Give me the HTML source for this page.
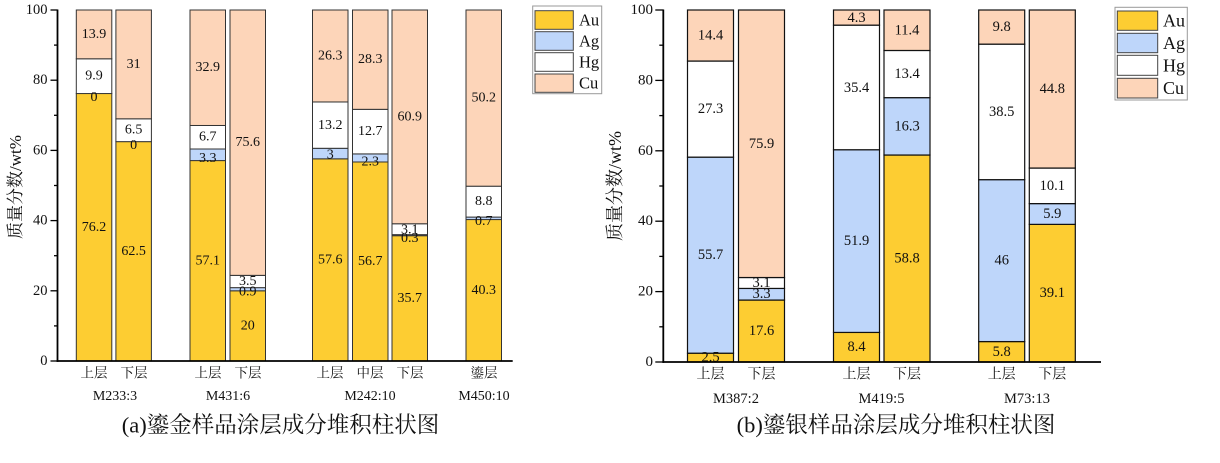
<!DOCTYPE html>
<html><head><meta charset="utf-8">
<style>
html,body{margin:0;padding:0;background:#fff;}
svg{display:block;}
text{font-family:"Liberation Serif","Noto Serif CJK SC",serif;fill:#111;}
.cj{font-family:"Liberation Serif","Noto Serif CJK SC",serif;}
</style></head>
<body>
<svg width="1220" height="463" viewBox="0 0 1220 463" xmlns="http://www.w3.org/2000/svg">
<rect width="1220" height="463" fill="#fff"/>

<!-- ================= LEFT CHART ================= -->
<g stroke="#333" stroke-width="1">
<!-- B1 -->
<rect x="76.3" y="93.54" width="35.5" height="267.46" fill="#FDCD32"/>
<rect x="76.3" y="58.79" width="35.5" height="34.75" fill="#FFFFFF"/>
<rect x="76.3" y="10" width="35.5" height="48.79" fill="#FDD5B9"/>
<!-- B2 -->
<rect x="115.9" y="141.63" width="35.5" height="219.37" fill="#FDCD32"/>
<rect x="115.9" y="118.81" width="35.5" height="22.82" fill="#FFFFFF"/>
<rect x="115.9" y="10" width="35.5" height="108.81" fill="#FDD5B9"/>
<!-- B3 -->
<rect x="190" y="160.58" width="35.5" height="200.42" fill="#FDCD32"/>
<rect x="190" y="149.0" width="35.5" height="11.58" fill="#BED6FA"/>
<rect x="190" y="125.48" width="35.5" height="23.52" fill="#FFFFFF"/>
<rect x="190" y="10" width="35.5" height="115.48" fill="#FDD5B9"/>
<!-- B4 -->
<rect x="230" y="290.8" width="35.5" height="70.2" fill="#FDCD32"/>
<rect x="230" y="287.64" width="35.5" height="3.16" fill="#BED6FA"/>
<rect x="230" y="275.36" width="35.5" height="12.28" fill="#FFFFFF"/>
<rect x="230" y="10" width="35.5" height="265.36" fill="#FDD5B9"/>
<!-- B5 -->
<rect x="312.5" y="158.82" width="35.5" height="202.18" fill="#FDCD32"/>
<rect x="312.5" y="148.29" width="35.5" height="10.53" fill="#BED6FA"/>
<rect x="312.5" y="101.96" width="35.5" height="46.33" fill="#FFFFFF"/>
<rect x="312.5" y="10" width="35.5" height="91.96" fill="#FDD5B9"/>
<!-- B6 -->
<rect x="352.5" y="161.98" width="35.5" height="199.02" fill="#FDCD32"/>
<rect x="352.5" y="153.91" width="35.5" height="8.07" fill="#BED6FA"/>
<rect x="352.5" y="109.33" width="35.5" height="44.58" fill="#FFFFFF"/>
<rect x="352.5" y="10" width="35.5" height="99.33" fill="#FDD5B9"/>
<!-- B7 -->
<rect x="392" y="235.69" width="35.5" height="125.31" fill="#FDCD32"/>
<rect x="392" y="234.64" width="35.5" height="1.05" fill="#BED6FA"/>
<rect x="392" y="223.76" width="35.5" height="10.88" fill="#FFFFFF"/>
<rect x="392" y="10" width="35.5" height="213.76" fill="#FDD5B9"/>
<!-- B8 -->
<rect x="466" y="219.55" width="35.5" height="141.45" fill="#FDCD32"/>
<rect x="466" y="217.09" width="35.5" height="2.46" fill="#BED6FA"/>
<rect x="466" y="186.2" width="35.5" height="30.89" fill="#FFFFFF"/>
<rect x="466" y="10" width="35.5" height="176.2" fill="#FDD5B9"/>
</g>

<!-- left bar labels -->
<g font-size="14" text-anchor="middle" dominant-baseline="central">
<text x="94" y="227.3">76.2</text><text x="94" y="97.5">0</text><text x="94" y="76.2">9.9</text><text x="94" y="34.4">13.9</text>
<text x="133.6" y="251.3">62.5</text><text x="133.6" y="145.6">0</text><text x="133.6" y="130.2">6.5</text><text x="133.6" y="64.4">31</text>
<text x="207.7" y="260.8">57.1</text><text x="207.7" y="158.3">3.3</text><text x="207.7" y="137.2">6.7</text><text x="207.7" y="67.7">32.9</text>
<text x="247.7" y="325.9">20</text><text x="247.7" y="292.2">0.9</text><text x="247.7" y="281.5">3.5</text><text x="247.7" y="142.7">75.6</text>
<text x="330.2" y="259.9">57.6</text><text x="330.2" y="155.1">3</text><text x="330.2" y="125.6">13.2</text><text x="330.2" y="56">26.3</text>
<text x="370.2" y="261.5">56.7</text><text x="370.2" y="162">2.3</text><text x="370.2" y="131.6">12.7</text><text x="370.2" y="59.7">28.3</text>
<text x="409.7" y="298.4">35.7</text><text x="409.7" y="238.3">0.3</text><text x="409.7" y="229.8">3.1</text><text x="409.7" y="116.9">60.9</text>
<text x="483.7" y="290.3">40.3</text><text x="483.7" y="221.7">0.7</text><text x="483.7" y="201.7">8.8</text><text x="483.7" y="98.1">50.2</text>
</g>

<!-- left axes -->
<g stroke="#000" stroke-width="1.8" fill="none">
<line x1="57.5" y1="9.5" x2="57.5" y2="361.9"/>
<line x1="56.6" y1="361" x2="512.7" y2="361"/>
</g>
<g stroke="#000" stroke-width="1.3">
<line x1="50.5" y1="361" x2="57.5" y2="361"/>
<line x1="50.5" y1="290.8" x2="57.5" y2="290.8"/>
<line x1="50.5" y1="220.6" x2="57.5" y2="220.6"/>
<line x1="50.5" y1="150.4" x2="57.5" y2="150.4"/>
<line x1="50.5" y1="80.2" x2="57.5" y2="80.2"/>
<line x1="50.5" y1="10" x2="57.5" y2="10"/>
<line x1="54" y1="325.9" x2="57.5" y2="325.9"/>
<line x1="54" y1="255.7" x2="57.5" y2="255.7"/>
<line x1="54" y1="185.5" x2="57.5" y2="185.5"/>
<line x1="54" y1="115.3" x2="57.5" y2="115.3"/>
<line x1="54" y1="45.1" x2="57.5" y2="45.1"/>
</g>
<g font-size="14.5" text-anchor="end" dominant-baseline="central">
<text x="47.5" y="361">0</text>
<text x="47.5" y="290.8">20</text>
<text x="47.5" y="220.6">40</text>
<text x="47.5" y="150.4">60</text>
<text x="47.5" y="80.2">80</text>
<text x="47.5" y="10">100</text>
</g>
<text class="cj" font-size="17" text-anchor="middle" dominant-baseline="central" transform="translate(15.5,187) rotate(-90)">质量分数/wt%</text>

<g class="cj" font-size="13.5" text-anchor="middle" dominant-baseline="central" fill="#222">
<text x="94" y="373">上层</text><text x="134" y="373">下层</text>
<text x="208" y="373">上层</text><text x="248" y="373">下层</text>
<text x="330" y="373">上层</text><text x="370" y="373">中层</text><text x="410" y="373">下层</text>
<text x="484" y="373">鎏层</text>
</g>
<g font-size="14" text-anchor="middle" dominant-baseline="central">
<text x="115" y="396.5">M233:3</text>
<text x="228" y="396.5">M431:6</text>
<text x="370" y="396.5">M242:10</text>
<text x="484" y="396.5">M450:10</text>
</g>
<text class="cj" x="280.5" y="425" font-size="22.5" text-anchor="middle" dominant-baseline="central">(a)鎏金样品涂层成分堆积柱状图</text>

<!-- left legend -->
<rect x="532.7" y="6" width="69" height="87.7" fill="#fff" stroke="#999" stroke-width="1"/>
<g stroke="#444" stroke-width="1">
<rect x="535" y="10.7" width="38.3" height="18.6" fill="#FDCD32"/>
<rect x="535" y="31.7" width="38.3" height="18.6" fill="#BED6FA"/>
<rect x="535" y="52.7" width="38.3" height="18.6" fill="#FFFFFF"/>
<rect x="535" y="74" width="38.3" height="18.3" fill="#FDD5B9"/>
</g>
<g font-size="16.5" dominant-baseline="central">
<text x="579" y="20">Au</text>
<text x="579" y="41">Ag</text>
<text x="579" y="62">Hg</text>
<text x="579" y="83.2">Cu</text>
</g>

<!-- ================= RIGHT CHART ================= -->
<g stroke="#111" stroke-width="1.2">
<!-- R1 -->
<rect x="687.5" y="353.2" width="46" height="8.8" fill="#FDCD32"/>
<rect x="687.5" y="157.14" width="46" height="196.06" fill="#BED6FA"/>
<rect x="687.5" y="61.04" width="46" height="96.1" fill="#FFFFFF"/>
<rect x="687.5" y="10" width="46" height="51.04" fill="#FDD5B9"/>
<!-- R2 -->
<rect x="738.5" y="300.05" width="46" height="61.95" fill="#FDCD32"/>
<rect x="738.5" y="288.43" width="46" height="11.62" fill="#BED6FA"/>
<rect x="738.5" y="277.52" width="46" height="10.91" fill="#FFFFFF"/>
<rect x="738.5" y="10" width="46" height="267.52" fill="#FDD5B9"/>
<!-- R3 -->
<rect x="833.5" y="332.43" width="46" height="29.57" fill="#FDCD32"/>
<rect x="833.5" y="149.74" width="46" height="182.69" fill="#BED6FA"/>
<rect x="833.5" y="25.14" width="46" height="124.6" fill="#FFFFFF"/>
<rect x="833.5" y="10" width="46" height="15.14" fill="#FDD5B9"/>
<!-- R4 -->
<rect x="884" y="155.02" width="46" height="206.98" fill="#FDCD32"/>
<rect x="884" y="97.65" width="46" height="57.37" fill="#BED6FA"/>
<rect x="884" y="50.48" width="46" height="47.17" fill="#FFFFFF"/>
<rect x="884" y="10" width="46" height="40.48" fill="#FDD5B9"/>
<!-- R5 -->
<rect x="978.7" y="341.58" width="46" height="20.42" fill="#FDCD32"/>
<rect x="978.7" y="179.66" width="46" height="161.92" fill="#BED6FA"/>
<rect x="978.7" y="44.14" width="46" height="135.52" fill="#FFFFFF"/>
<rect x="978.7" y="10" width="46" height="34.14" fill="#FDD5B9"/>
<!-- R6 -->
<rect x="1029.3" y="224.37" width="46" height="137.63" fill="#FDCD32"/>
<rect x="1029.3" y="203.6" width="46" height="20.77" fill="#BED6FA"/>
<rect x="1029.3" y="168.05" width="46" height="35.55" fill="#FFFFFF"/>
<rect x="1029.3" y="10" width="46" height="158.05" fill="#FDD5B9"/>
</g>

<g font-size="14.5" text-anchor="middle" dominant-baseline="central">
<text x="710.5" y="357.6">2.5</text><text x="710.5" y="255.2">55.7</text><text x="710.5" y="109.1">27.3</text><text x="710.5" y="35.7">14.4</text>
<text x="761.5" y="331">17.6</text><text x="761.5" y="294.2">3.3</text><text x="761.5" y="283">3.1</text><text x="761.5" y="143.9">75.9</text>
<text x="856.5" y="347.2">8.4</text><text x="856.5" y="241.1">51.9</text><text x="856.5" y="87.8">35.4</text><text x="856.5" y="17.8">4.3</text>
<text x="907" y="258.5">58.8</text><text x="907" y="126.3">16.3</text><text x="907" y="74.1">13.4</text><text x="907" y="30.4">11.4</text>
<text x="1001.7" y="351.8">5.8</text><text x="1001.7" y="260.6">46</text><text x="1001.7" y="111.9">38.5</text><text x="1001.7" y="26.9">9.8</text>
<text x="1052.3" y="293.2">39.1</text><text x="1052.3" y="214">5.9</text><text x="1052.3" y="185.8">10.1</text><text x="1052.3" y="89.2">44.8</text>
</g>

<!-- right axes -->
<g stroke="#000" stroke-width="1.8" fill="none">
<line x1="663.3" y1="9.5" x2="663.3" y2="362.9"/>
<line x1="662.4" y1="362" x2="1101" y2="362"/>
</g>
<g stroke="#000" stroke-width="1.3">
<line x1="655.3" y1="362" x2="663.3" y2="362"/>
<line x1="655.3" y1="291.6" x2="663.3" y2="291.6"/>
<line x1="655.3" y1="221.2" x2="663.3" y2="221.2"/>
<line x1="655.3" y1="150.8" x2="663.3" y2="150.8"/>
<line x1="655.3" y1="80.4" x2="663.3" y2="80.4"/>
<line x1="655.3" y1="10" x2="663.3" y2="10"/>
<line x1="659.3" y1="326.8" x2="663.3" y2="326.8"/>
<line x1="659.3" y1="256.4" x2="663.3" y2="256.4"/>
<line x1="659.3" y1="186" x2="663.3" y2="186"/>
<line x1="659.3" y1="115.6" x2="663.3" y2="115.6"/>
<line x1="659.3" y1="45.2" x2="663.3" y2="45.2"/>
</g>
<g font-size="15" text-anchor="end" dominant-baseline="central">
<text x="653" y="362">0</text>
<text x="653" y="291.6">20</text>
<text x="653" y="221.2">40</text>
<text x="653" y="150.8">60</text>
<text x="653" y="80.4">80</text>
<text x="653" y="10">100</text>
</g>
<text class="cj" font-size="18" text-anchor="middle" dominant-baseline="central" transform="translate(615,186) rotate(-90)">质量分数/wt%</text>

<g class="cj" font-size="14" text-anchor="middle" dominant-baseline="central" fill="#222">
<text x="710.5" y="375">上层</text><text x="761.5" y="375">下层</text>
<text x="856.5" y="375">上层</text><text x="907" y="375">下层</text>
<text x="1001.7" y="375">上层</text><text x="1052.3" y="375">下层</text>
</g>
<g font-size="14.5" text-anchor="middle" dominant-baseline="central">
<text x="736" y="399">M387:2</text>
<text x="881.5" y="399">M419:5</text>
<text x="1027" y="399">M73:13</text>
</g>
<text class="cj" x="896" y="425" font-size="22.5" text-anchor="middle" dominant-baseline="central">(b)鎏银样品涂层成分堆积柱状图</text>

<!-- right legend -->
<rect x="1115" y="7.3" width="72.3" height="92.7" fill="#fff" stroke="#999" stroke-width="1"/>
<g stroke="#444" stroke-width="1">
<rect x="1117.3" y="11" width="40.4" height="19.3" fill="#FDCD32"/>
<rect x="1117.3" y="33.3" width="40.4" height="19.4" fill="#BED6FA"/>
<rect x="1117.3" y="55.3" width="40.4" height="20" fill="#FFFFFF"/>
<rect x="1117.3" y="78.3" width="40.4" height="19.7" fill="#FDD5B9"/>
</g>
<g font-size="18" dominant-baseline="central">
<text x="1163" y="20.7">Au</text>
<text x="1163" y="43">Ag</text>
<text x="1163" y="65.3">Hg</text>
<text x="1163" y="88.2">Cu</text>
</g>

</svg>
</body></html>
